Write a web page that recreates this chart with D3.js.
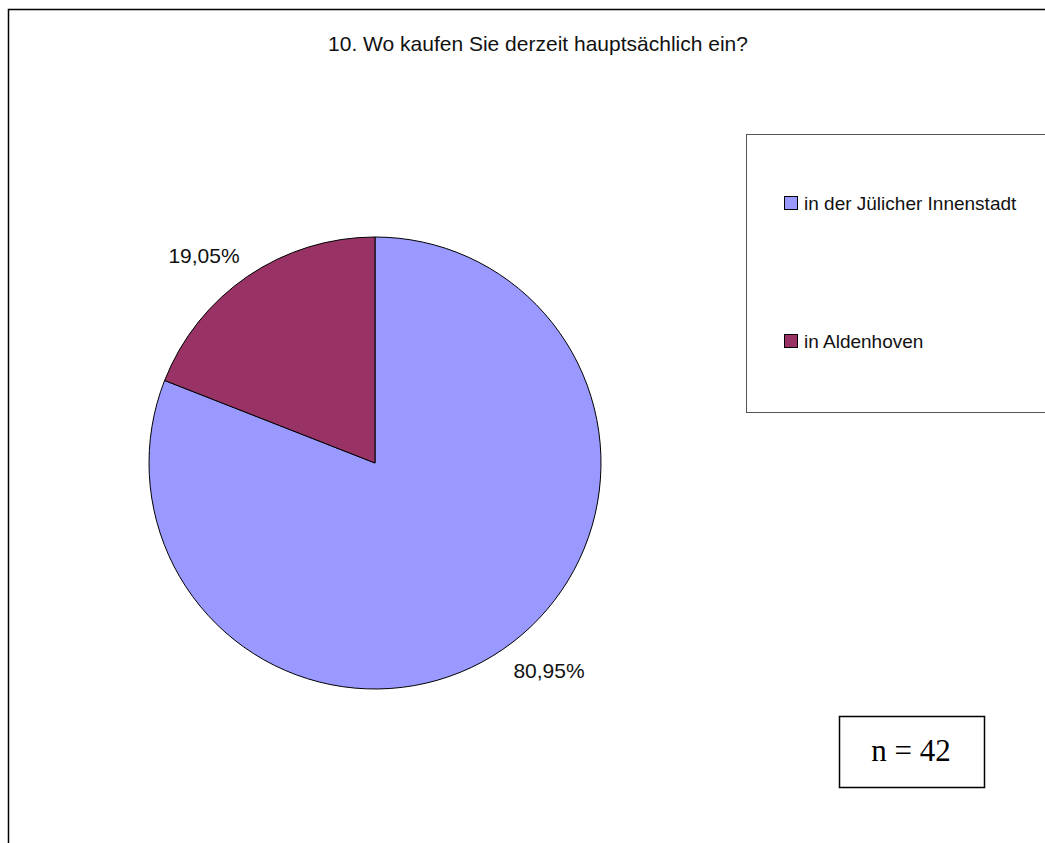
<!DOCTYPE html>
<html>
<head>
<meta charset="utf-8">
<script src="https://cdn.jsdelivr.net/npm/d3@7"></script>
<style>
  body { margin: 0; background: #fff; }
  svg { display: block; }
</style>
</head>
<body>
<div id="viz"></div>
<script>
// data
const categories = ['in der Jülicher Innenstadt', 'in Aldenhoven'];
const values = [80.95, 19.05];
const labels = ['80,95%', '19,05%'];
const colors = ['#9999FF', '#993366'];
const title = '10. Wo kaufen Sie derzeit hauptsächlich ein?';
const nText = 'n = 42';

const width = 1045;
const height = 843;

const svg = d3.select('#viz')
    .append('svg')
        .attr('width', width)
        .attr('height', height);

// outer frame (runs off right and bottom)
svg.append('rect')
    .attr('x', 8.5)
    .attr('y', 9.5)
    .attr('width', width + 20)
    .attr('height', height + 20)
    .attr('fill', '#fff')
    .attr('stroke', '#000')
    .attr('stroke-width', 1.5);

svg.append('text')
    .attr('x', 538)
    .attr('y', 51)
    .attr('text-anchor', 'middle')
    .attr('font-family', 'Liberation Sans, Arial, sans-serif')
    .attr('font-size', 21)
    .attr('fill', '#111')
    .text(title);

// pie
const cx = 375, cy = 463, radius = 226;
const pie = d3.pie().sort(null).value(d => d);
const arc = d3.arc().innerRadius(0).outerRadius(radius);
const arcs = pie(values);

const g = svg.append('g').attr('transform', `translate(${cx},${cy})`);
g.selectAll('path')
    .data(arcs)
    .join('path')
        .attr('d', arc)
        .attr('fill', (d, i) => colors[i])
        .attr('stroke', '#000')
        .attr('stroke-width', 1);

// data labels, placed outside the rim
const labelPos = [[174, 215], [-171, -200]];
g.selectAll('text.lbl')
    .data(arcs)
    .join('text')
        .attr('class', 'lbl')
        .attr('x', d => labelPos[d.index][0])
        .attr('y', d => labelPos[d.index][1])
        .attr('text-anchor', 'middle')
        .attr('font-family', 'Liberation Sans, Arial, sans-serif')
        .attr('font-size', 21)
        .attr('fill', '#111')
        .text((d, i) => labels[i]);

// legend
const legend = svg.append('g');
legend.append('rect')
    .attr('x', 746.5)
    .attr('y', 134.5)
    .attr('width', 320)
    .attr('height', 278)
    .attr('fill', '#fff')
    .attr('stroke', '#555')
    .attr('stroke-width', 1);

const legendY = d3.scalePoint().domain(categories).range([203, 341]);
const items = legend.selectAll('g.item')
    .data(categories)
    .join('g')
        .attr('class', 'item')
        .attr('transform', d => `translate(784,${legendY(d)})`);
items.append('rect')
    .attr('x', 0.5)
    .attr('y', -6.5)
    .attr('width', 13)
    .attr('height', 13)
    .attr('fill', (d, i) => colors[i])
    .attr('stroke', '#000');
items.append('text')
    .attr('x', 20)
    .attr('y', 7)
    .attr('font-family', 'Liberation Sans, Arial, sans-serif')
    .attr('font-size', 19)
    .attr('fill', '#111')
    .text(d => d);

// n box
svg.append('rect')
    .attr('x', 839.5)
    .attr('y', 716.5)
    .attr('width', 145)
    .attr('height', 71)
    .attr('fill', '#fff')
    .attr('stroke', '#000')
    .attr('stroke-width', 1.5);
svg.append('text')
    .attr('x', 911)
    .attr('y', 761)
    .attr('text-anchor', 'middle')
    .attr('font-family', 'Liberation Serif, Times New Roman, serif')
    .attr('font-size', 31)
    .attr('fill', '#000')
    .text(nText);
</script>
</body>
</html>
